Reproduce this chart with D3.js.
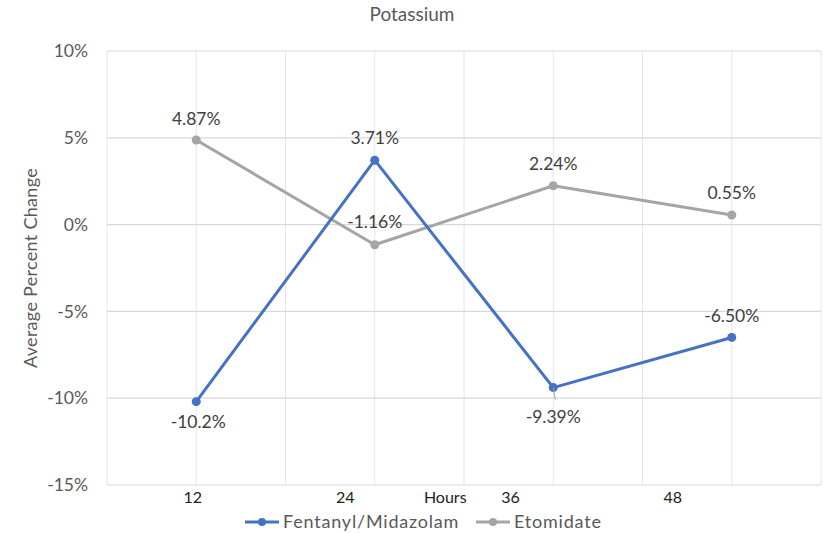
<!DOCTYPE html>
<html>
<head>
<meta charset="utf-8">
<script src="https://cdn.jsdelivr.net/npm/d3@7"></script>
<style>
  body { margin: 0; background: #fff; }
  text { font-family: Lato, "Open Sans", sans-serif; }
</style>
</head>
<body>
<div id="chart"></div>
<script>
// data
const hours = [12, 24, 36, 48];
const fentanyl = [-10.2, 3.71, -9.39, -6.50];
const etomidate = [4.87, -1.16, 2.24, 0.55];
const fentanylLabels = ["-10.2%", "3.71%", "-9.39%", "-6.50%"];
const etomidateLabels = ["4.87%", "-1.16%", "2.24%", "0.55%"];
const yTicks = [10, 5, 0, -5, -10, -15];
// x axis text as it appears (odd offsets in the original)
const xTickLabels = ["12", "24", "Hours", "36", "48"];
const xTickSlots = [0.96, 2.67, 3.79, 4.52, 6.34];

const width = 825, height = 533;
const margin = { left: 107, right: 4, top: 51, bottom: 48 };

const svg = d3.select("#chart").append("svg")
  .attr("width", width).attr("height", height);

// 8 grid columns, points sit on the odd ones
const x = d3.scaleLinear().domain([0, 8]).range([margin.left, width - margin.right]);
const slot = i => 1 + 2 * i;
const y = d3.scaleLinear().domain([-15, 10]).range([height - margin.bottom, margin.top]);

const blue = "#4472C4", gray = "#A5A5A5";

// gridlines
svg.append("g").selectAll("line").data(d3.range(0, 9)).join("line")
  .attr("x1", d => x(d)).attr("x2", d => x(d))
  .attr("y1", y(10)).attr("y2", y(-15))
  .attr("stroke", "#e6e6e6").attr("stroke-width", 1);
svg.append("g").selectAll("line").data(yTicks).join("line")
  .attr("x1", x(0)).attr("x2", x(8))
  .attr("y1", d => y(d)).attr("y2", d => y(d))
  .attr("stroke", "#d9d9d9").attr("stroke-width", 1.2);

// y labels
svg.append("g").selectAll("text").data(yTicks).join("text")
  .attr("x", 88).attr("y", d => y(d)).attr("dy", "0.35em")
  .attr("text-anchor", "end").attr("font-size", 17.5).attr("fill", "#595959")
  .text(d => d + "%");

// x labels
svg.append("g").selectAll("text").data(xTickLabels).join("text")
  .attr("x", (d, i) => x(xTickSlots[i])).attr("y", 503)
  .attr("text-anchor", "middle").attr("font-size", 16).attr("fill", "#222")
  .text(d => d);

// title + axis title
svg.append("text").attr("x", 412).attr("y", 21).attr("text-anchor", "middle")
  .attr("font-size", 19).attr("fill", "#595959").text("Potassium");
svg.append("text").attr("transform", "translate(37,268) rotate(-90)")
  .attr("text-anchor", "middle").attr("font-size", 18).attr("letter-spacing", 0.3)
  .attr("fill", "#595959")
  .text("Average Percent Change");

const line = d3.line().x((d, i) => x(slot(i))).y(d => y(d));

function drawSeries(vals, color) {
  svg.append("path").datum(vals).attr("d", line)
    .attr("fill", "none").attr("stroke", color).attr("stroke-width", 3)
    .attr("stroke-linejoin", "round");
  svg.append("g").selectAll("circle").data(vals).join("circle")
    .attr("cx", (d, i) => x(slot(i))).attr("cy", d => y(d))
    .attr("r", 4.5).attr("fill", color);
}
drawSeries(etomidate, gray);
drawSeries(fentanyl, blue);

// leader line for -9.39%
svg.append("line")
  .attr("x1", x(slot(2))).attr("y1", y(fentanyl[2]))
  .attr("x2", x(slot(2)) + 2).attr("y2", y(fentanyl[2]) + 12)
  .attr("stroke", gray).attr("stroke-width", 1);

// data labels: offsets above (-) or below (+)
const etoOff = [-21, -23, -22, -22];
const fenOff = [20, -22, 29, -22];
function drawLabels(vals, labels, offs, dx) {
  svg.append("g").selectAll("text").data(vals).join("text")
    .attr("x", (d, i) => x(slot(i)) + (dx[i] || 0))
    .attr("y", (d, i) => y(d) + offs[i]).attr("dy", "0.35em")
    .attr("text-anchor", "middle").attr("font-size", 17.5).attr("fill", "#404040")
    .text((d, i) => labels[i]);
}
drawLabels(etomidate, etomidateLabels, etoOff, [0, 0, 0, 0]);
drawLabels(fentanyl, fentanylLabels, fenOff, [2, 0, 0, 0]);

// legend
const legend = [
  { name: "Fentanyl/Midazolam", color: blue, x: 245 },
  { name: "Etomidate", color: gray, x: 476 }
];
const lg = svg.append("g").selectAll("g").data(legend).join("g")
  .attr("transform", d => `translate(${d.x},522)`);
lg.append("line").attr("x1", 0).attr("x2", 34).attr("y1", 0).attr("y2", 0)
  .attr("stroke", d => d.color).attr("stroke-width", 3);
lg.append("circle").attr("cx", 17).attr("cy", 0).attr("r", 4).attr("fill", d => d.color);
lg.append("text").attr("x", 38).attr("dy", "0.35em").attr("font-size", 18)
  .attr("letter-spacing", 0.8)
  .attr("fill", "#595959").text(d => d.name);
</script>
</body>
</html>
